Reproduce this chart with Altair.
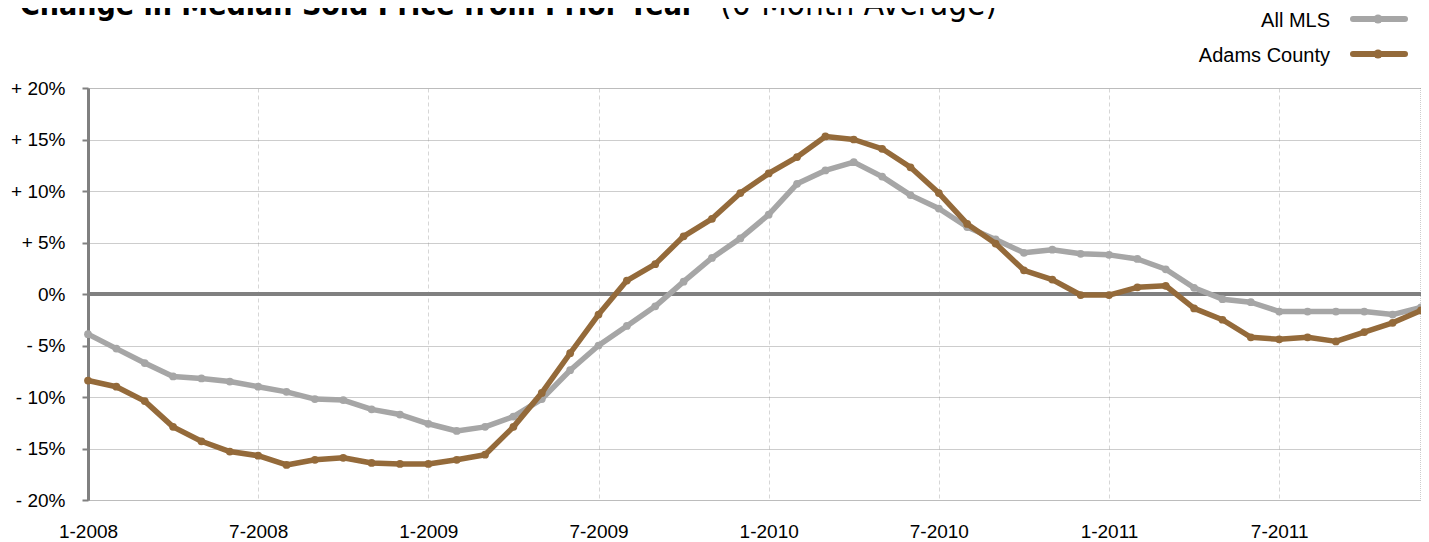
import altair as alt
import pandas as pd

# ---- data ----
month_index = list(range(48))  # Jan 2008 .. Dec 2011
tick_months = [0, 6, 12, 18, 24, 30, 36, 42]
tick_labels = ["1-2008", "7-2008", "1-2009", "7-2009", "1-2010", "7-2010", "1-2011", "7-2011"]
y_ticks = [-20, -15, -10, -5, 0, 5, 10, 15, 20]

all_mls = [-3.9, -5.3, -6.7, -8.0, -8.2, -8.5, -9.0, -9.5, -10.2, -10.3, -11.2, -11.7,
           -12.6, -13.3, -12.9, -11.9, -10.2, -7.4, -5.0, -3.1, -1.2, 1.2, 3.5, 5.4,
           7.7, 10.7, 12.0, 12.8, 11.4, 9.6, 8.3, 6.5, 5.3, 4.0, 4.3, 3.9,
           3.8, 3.4, 2.4, 0.6, -0.5, -0.8, -1.7, -1.7, -1.7, -1.7, -2.0, -1.3]
adams = [-8.4, -9.0, -10.4, -12.9, -14.3, -15.3, -15.7, -16.6, -16.1, -15.9, -16.4, -16.5,
         -16.5, -16.1, -15.6, -12.9, -9.6, -5.75, -2.0, 1.3, 2.9, 5.6, 7.3, 9.8,
         11.7, 13.3, 15.3, 15.0, 14.1, 12.3, 9.8, 6.8, 4.9, 2.3, 1.4, -0.1,
         -0.1, 0.65, 0.8, -1.4, -2.5, -4.2, -4.4, -4.2, -4.6, -3.7, -2.8, -1.6]

series_names = ["All MLS", "Adams County"]
series_colors = ["#A6A6A6", "#946A3A"]

title_bold = "Change in Median Sold Price from Prior Year"
title_regular = "(6-Month Average)¹"

# ---- build tables ----
df_mls = pd.DataFrame({"month": month_index, "value": all_mls})
df_adams = pd.DataFrame({"month": month_index, "value": adams})

W, H = 1333, 412
FONT = "Liberation Sans"
TFONT = "'Liberation Sans Narrow', 'DejaVu Sans Condensed', 'Arial Narrow', sans-serif"

label_array = "[" + ",".join(f"'{t}'" for t in tick_labels) + "]"
x_scale = alt.Scale(domain=[0, 47], nice=False, zero=False)
y_scale = alt.Scale(domain=[-20, 20], nice=False)

x_axis = alt.Axis(values=tick_months, labelExpr=f"{label_array}[datum.value/6]",
                  grid=True, gridColor="#d6d6d6", gridDash=[4, 3], gridWidth=1,
                  domain=False, ticks=False, labelFontSize=19, labelColor="#000",
                  labelFont=FONT, labelPadding=22, title=None, labelFlush=False)
y_axis = alt.Axis(values=y_ticks,
                  labelExpr="datum.value > 0 ? '+ ' + datum.value + '%' : (datum.value < 0 ? '- ' + abs(datum.value) + '%' : '0%')",
                  grid=True, gridColor="#9a9a9a", gridDash=[1, 1], gridWidth=1,
                  domain=True, domainColor="#808080", domainWidth=3,
                  ticks=True, tickColor="#808080", tickSize=6, tickWidth=2,
                  labelFontSize=19, labelColor="#000", labelFont=FONT,
                  labelPadding=17, title=None)

base_grid = alt.Chart(df_mls).mark_point(opacity=0).encode(
    x=alt.X("month:Q", scale=x_scale, axis=x_axis),
    y=alt.Y("value:Q", scale=y_scale, axis=y_axis),
)

zero_df = pd.DataFrame({"y": [0]})
zero_line = alt.Chart(zero_df).mark_rule(color="#808080", strokeWidth=4).encode(
    y=alt.Y("y:Q", scale=y_scale)
)

right_df = pd.DataFrame({"x": [47]})
right_border = alt.Chart(right_df).mark_rule(color="#9a9a9a", strokeWidth=1, strokeDash=[1, 1]).encode(
    x=alt.X("x:Q", scale=x_scale)
)


def series_layers(df, color):
    line = alt.Chart(df).mark_line(color=color, strokeWidth=5.5, strokeJoin="round").encode(
        x=alt.X("month:Q", scale=x_scale), y=alt.Y("value:Q", scale=y_scale))
    pts = alt.Chart(df).mark_circle(color=color, size=60, opacity=1).encode(
        x=alt.X("month:Q", scale=x_scale), y=alt.Y("value:Q", scale=y_scale))
    return [line, pts]


mls_layers = series_layers(df_mls, series_colors[0])
adams_layers = series_layers(df_adams, series_colors[1])

# ---- legend (manual, top right) ----
leg_df = pd.DataFrame({"name": series_names, "color": series_colors})
legend_layers = []
for i, (nm, col) in enumerate(zip(series_names, series_colors)):
    d = leg_df.iloc[[i]]
    ly = -69 + i * 35
    legend_layers.append(
        alt.Chart(d).mark_text(align="right", baseline="alphabetic", fontSize=20, font=FONT, color="#000").encode(
            x=alt.value(1242), y=alt.value(ly + 8), text="name:N"))
    legend_layers.append(
        alt.Chart(d).mark_rule(color=col, strokeWidth=6, strokeCap="round").encode(
            x=alt.value(1265), x2=alt.value(1317), y=alt.value(ly)))
    legend_layers.append(
        alt.Chart(d).mark_circle(color=col, size=80, opacity=1).encode(
            x=alt.value(1290), y=alt.value(ly)))

# ---- title (partly cut off at top like the reference) ----
tdf = pd.DataFrame({"a": [title_bold], "b": [title_regular]})
title1 = alt.Chart(tdf).mark_text(align="left", baseline="alphabetic", fontSize=30,
                                  font=TFONT, fontWeight="bold", color="#000").encode(
    x=alt.value(-68), y=alt.value(-73), text="a:N")
title2 = alt.Chart(tdf).mark_text(align="left", baseline="alphabetic", fontSize=33,
                                  font=TFONT, fontWeight="normal", color="#000").encode(
    x=alt.value(632), y=alt.value(-73), text="b:N")

chart = alt.layer(
    base_grid, right_border, zero_line, *mls_layers, *adams_layers, *legend_layers, title1, title2
).properties(
    width=W, height=H,
    autosize=alt.AutoSizeParams(type="none"),
    padding={"left": 80, "top": 80, "right": 0, "bottom": 44},
).configure_view(stroke=None).configure(background="white")

chart.save("out.html", embed_options={"renderer": "svg", "actions": False})
